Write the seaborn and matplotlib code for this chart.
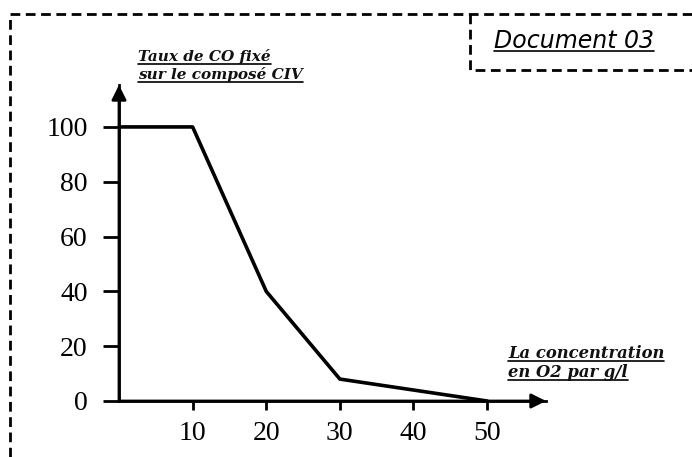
import matplotlib
matplotlib.use("Agg")
import matplotlib.pyplot as plt
from matplotlib.lines import Line2D
import seaborn as sns
import pandas as pd

# data
concentration = [0, 10, 20, 30, 50]
taux_co = [100, 100, 40, 8, 0]
x_ticks = [10, 20, 30, 40, 50]
y_ticks = [0, 20, 40, 60, 80, 100]

df = pd.DataFrame({"O2": concentration, "CO": taux_co})

sns.set_style("ticks")
plt.rcParams["font.family"] = ["Liberation Serif", "DejaVu Serif"]

W, H = 692, 457
fig = plt.figure(figsize=(W / 100, H / 100), dpi=100)
ax = fig.add_axes([119 / W, 56 / H, (546 - 119) / W, (401 - 85) / H])

sns.lineplot(data=df, x="O2", y="CO", color="black", lw=2.6, ax=ax, clip_on=False)

ax.set_xlim(0, 58)
ax.set_ylim(0, 115.3)
ax.set_xticks(x_ticks)
ax.set_yticks(y_ticks)
ax.set_xlabel("")
ax.set_ylabel("")
sns.despine(ax=ax)
for s in ["left", "bottom"]:
    ax.spines[s].set_linewidth(2)
    ax.spines[s].set_color("black")
ax.tick_params(axis="y", direction="out", length=11.5, width=2, pad=11,
               labelsize=20, colors="black")
ax.tick_params(axis="x", direction="out", length=6.5, width=2, pad=8,
               labelsize=20, colors="black")

# arrow heads on the axes
arrow = dict(arrowstyle="-|>", color="black", lw=2, mutation_scale=22,
             shrinkA=0, shrinkB=0)
ax.annotate("", xy=(0, 1), xytext=(0, 0), xycoords="axes fraction", arrowprops=arrow)
ax.annotate("", xy=(1, 0), xytext=(0, 0), xycoords="axes fraction", arrowprops=arrow)


def px(x, y):
    return x / W, 1 - y / H


def underlined(x, y, s, **kw):
    # y is the baseline in pixels from the top
    t = fig.text(*px(x, y), s, va="baseline", ha="left", **kw)
    fig.canvas.draw()
    bb = t.get_window_extent()
    uy = 1 - (y + 3) / H
    x0 = bb.x0 / W
    x1 = bb.x1 / W
    fig.add_artist(Line2D([x0, x1], [uy, uy], color="black",
                          lw=1.2, transform=fig.transFigure))
    return t


lab = dict(family="DejaVu Serif", weight="bold", style="italic", color="#111111")
underlined(138, 61, "Taux de CO fixé", fontsize=11, **lab)
underlined(138, 79, "sur le composé CIV", fontsize=11, **lab)
underlined(508, 358, "La concentration", fontsize=11.8, **lab)
underlined(508, 377, "en O2 par g/l", fontsize=11.8, **lab)
underlined(494, 48, "Document 03", family="DejaVu Sans", style="italic",
           fontsize=17, color="black")

# dashed frames
dash = dict(color="black", lw=2, ls=(0, (3.5, 2)), transform=fig.transFigure)
fig.add_artist(Line2D(*zip(px(10, 457), px(10, 14), px(692, 14)), **dash))
fig.add_artist(Line2D(*zip(px(470, 14), px(470, 70), px(692, 70)), **dash))

fig.savefig("out.png", dpi=100)
